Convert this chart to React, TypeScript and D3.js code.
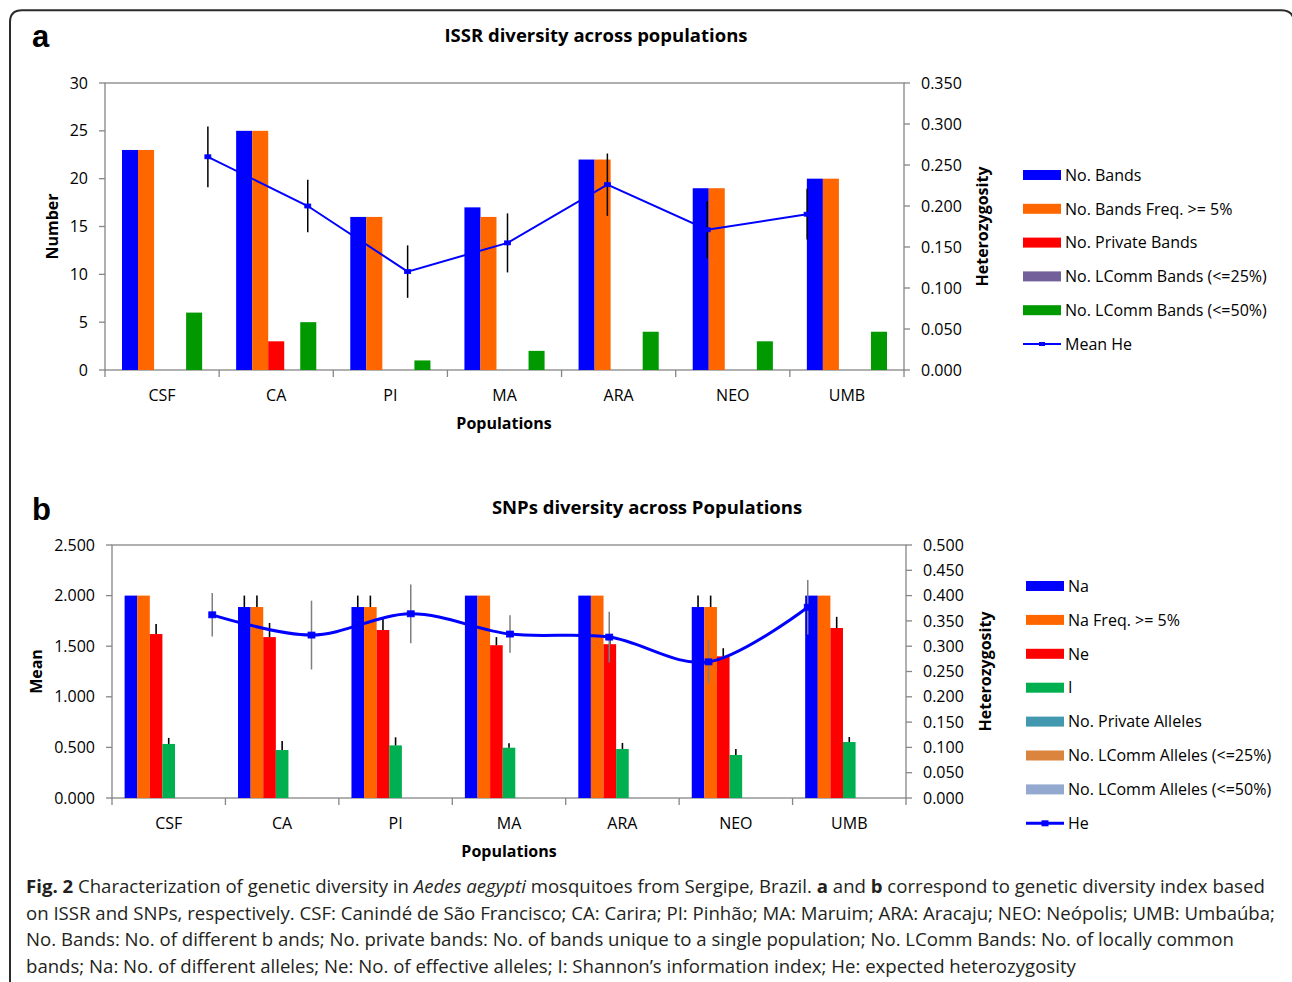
import React from 'react';
import * as d3 from 'd3';

const populations = ['CSF', 'CA', 'PI', 'MA', 'ARA', 'NEO', 'UMB'];

// panel a - ISSR
const issrSeriesNames = ['No. Bands', 'No. Bands Freq. >= 5%', 'No. Private Bands', 'No. LComm Bands (<=25%)', 'No. LComm Bands (<=50%)'];
const issrNoBands = [23, 25, 16, 17, 22, 19, 20];
const issrBandsFreq5 = [23, 25, 16, 16, 22, 19, 20];
const issrPrivateBands = [0, 3, 0, 0, 0, 0, 0];
const issrLComm25 = [0, 0, 0, 0, 0, 0, 0];
const issrLComm50 = [6, 5, 1, 2, 4, 3, 4];
const issrMeanHe = [0.26, 0.2, 0.12, 0.155, 0.226, 0.171, 0.19];
const issrMeanHeErr = [0.037, 0.032, 0.032, 0.036, 0.038, 0.035, 0.031];
const issrLeftTicks = [0, 5, 10, 15, 20, 25, 30];
const issrRightTicks = [0, 0.05, 0.1, 0.15, 0.2, 0.25, 0.3, 0.35];

// panel b - SNPs
const snpSeriesNames = ['Na', 'Na Freq. >= 5%', 'Ne', 'I', 'No. Private Alleles', 'No. LComm Alleles (<=25%)', 'No. LComm Alleles (<=50%)'];
const snpNa = [2.0, 1.887, 1.887, 2.0, 2.0, 1.887, 2.0];
const snpNaErr = [0, 0.113, 0.113, 0, 0, 0.113, 0];
const snpNaFreq5 = [2.0, 1.887, 1.887, 2.0, 2.0, 1.887, 2.0];
const snpNaFreq5Err = [0, 0.113, 0.113, 0, 0, 0.113, 0];
const snpNe = [1.62, 1.59, 1.66, 1.51, 1.52, 1.4, 1.68];
const snpNeErr = [0.1, 0.14, 0.12, 0.08, 0.09, 0.08, 0.11];
const snpI = [0.534, 0.474, 0.52, 0.497, 0.484, 0.425, 0.553];
const snpIErr = [0.06, 0.09, 0.08, 0.045, 0.06, 0.06, 0.05];
const snpPrivate = [0, 0, 0, 0, 0, 0, 0];
const snpLComm25 = [0, 0, 0, 0, 0, 0, 0];
const snpLComm50 = [0, 0, 0, 0, 0, 0, 0];
const snpHe = [0.362, 0.322, 0.364, 0.324, 0.318, 0.269, 0.377];
const snpHeErr = [0.043, 0.068, 0.058, 0.037, 0.05, 0.043, 0.054];
const snpLeftTicks = [0, 0.5, 1, 1.5, 2, 2.5];
const snpRightTicks = [0, 0.05, 0.1, 0.15, 0.2, 0.25, 0.3, 0.35, 0.4, 0.45, 0.5];

const FONT = "'Open Sans', sans-serif";
const AXIS = '#868686';

type Bar = { name: string; values: number[]; color: string; err?: number[] };

type PanelProps = {
  box: { left: number; right: number; top: number; bottom: number };
  bars: Bar[];
  outerPad: number;
  leftTicks: number[];
  rightTicks: number[];
  leftFmt: (v: number) => string;
  he: number[];
  heErr: number[];
  heName: string;
  heWidth: number;
  heErrColor: string;
  lineShift: number;
  smooth: boolean;
  marker: [number, number];
  legend: { x: number; y0: number; step: number };
  titles: { letter: string; title: string; titleX: number; titleY: number; letterY: number; yLabel: string; yLabelX: number; y2LabelX: number; xLabelX: number; xLabelY: number; catY: number };
};

const Panel = ({ box, bars, outerPad, leftTicks, rightTicks, leftFmt, he, heErr, heName, heWidth, heErrColor, lineShift, smooth, marker, legend, titles }: PanelProps) => {
  const { left, right, top, bottom } = box;
  const x0 = d3.scaleBand().domain(populations).range([left, right]).padding(0);
  const x1 = d3.scaleBand().domain(bars.map(b => b.name)).range([0, x0.bandwidth()]).paddingInner(0).paddingOuter(outerPad);
  const yL = d3.scaleLinear().domain([0, leftTicks[leftTicks.length - 1]]).range([bottom, top]);
  const yR = d3.scaleLinear().domain([0, rightTicks[rightTicks.length - 1]]).range([bottom, top]);
  // the line sits on its own secondary category axis
  const xLine = d3.scaleLinear().domain([-1, populations.length]).range([left + lineShift, right + lineShift]);
  const line = d3.line<number>()
    .x((_, i) => xLine(i))
    .y(d => yR(d))
    .curve(smooth ? d3.curveCatmullRom.alpha(0) : d3.curveLinear);
  const midY = (top + bottom) / 2;
  const legendItems = [...bars.map(b => ({ name: b.name, color: b.color, line: false })), { name: heName, color: '#0000FF', line: true }];

  return (
    <g fontFamily={FONT}>
      <text x={32} y={titles.letterY} fontFamily="'Liberation Sans', Arial, sans-serif" fontWeight="bold" fontSize={31}>{titles.letter}</text>
      <text x={titles.titleX} y={titles.titleY} textAnchor="middle" fontWeight="bold" fontSize={18.5}>{titles.title}</text>

      {/* plot frame */}
      <rect x={left} y={top} width={right - left} height={bottom - top} fill="none" stroke={AXIS} strokeWidth={1.3} />
      {leftTicks.map(t => (
        <g key={'l' + t}>
          <line x1={left - 6} x2={left} y1={yL(t)} y2={yL(t)} stroke={AXIS} strokeWidth={1.3} />
          <text x={left - 17} y={yL(t)} dy="0.35em" textAnchor="end" fontSize={16}>{leftFmt(t)}</text>
        </g>
      ))}
      {rightTicks.map(t => (
        <g key={'r' + t}>
          <line x1={right} x2={right + 6} y1={yR(t)} y2={yR(t)} stroke={AXIS} strokeWidth={1.3} />
          <text x={right + 17} y={yR(t)} dy="0.35em" fontSize={16}>{t.toFixed(3)}</text>
        </g>
      ))}
      {[...populations.map(p => x0(p) as number), right].map((v, i) => (
        <line key={'xt' + i} x1={v} x2={v} y1={bottom} y2={bottom + 7} stroke={AXIS} strokeWidth={1.3} />
      ))}
      {populations.map(p => (
        <text key={'c' + p} x={(x0(p) as number) + x0.bandwidth() / 2} y={titles.catY} textAnchor="middle" fontSize={16}>{p}</text>
      ))}

      {/* bars */}
      {bars.map(b => b.values.map((v, i) => (
        <rect key={b.name + i} x={(x0(populations[i]) as number) + (x1(b.name) as number)} y={yL(v)}
          width={x1.bandwidth()} height={bottom - yL(v)} fill={b.color} />
      )))}
      {bars.filter(b => b.err).map(b => b.values.map((v, i) => {
        const cx = (x0(populations[i]) as number) + (x1(b.name) as number) + x1.bandwidth() / 2;
        const e = (b.err as number[])[i];
        return e > 0 ? <line key={'e' + b.name + i} x1={cx} x2={cx} y1={yL(v)} y2={yL(v + e)} stroke="#000" strokeWidth={1.6} /> : null;
      }))}

      {/* heterozygosity line */}
      {he.map((v, i) => (
        <line key={'he' + i} x1={xLine(i)} x2={xLine(i)} y1={yR(v - heErr[i])} y2={yR(v + heErr[i])} stroke={heErrColor} strokeWidth={1.5} />
      ))}
      <path d={line(he) as string} fill="none" stroke="#0000FF" strokeWidth={heWidth} />
      {he.map((v, i) => (
        <rect key={'hm' + i} x={xLine(i) - marker[0] / 2} y={yR(v) - marker[1] / 2} width={marker[0]} height={marker[1]} fill="#0000FF" stroke="#0000FF" strokeWidth={0.8} />
      ))}

      {/* axis titles */}
      <text transform={`translate(${titles.yLabelX},${midY}) rotate(-90)`} dy="0.35em" textAnchor="middle" fontWeight="bold" fontSize={16}>{titles.yLabel}</text>
      <text transform={`translate(${titles.y2LabelX},${midY}) rotate(-90)`} dy="0.35em" textAnchor="middle" fontWeight="bold" fontSize={16}>Heterozygosity</text>
      <text x={titles.xLabelX} y={titles.xLabelY} textAnchor="middle" fontWeight="bold" fontSize={16}>Populations</text>

      {/* legend */}
      {legendItems.map((d, i) => {
        const cy = legend.y0 + i * legend.step;
        return (
          <g key={'lg' + i}>
            {d.line ? (
              <g>
                <line x1={legend.x} x2={legend.x + 38} y1={cy} y2={cy} stroke={d.color} strokeWidth={heWidth} />
                <rect x={legend.x + 19 - marker[0] / 2} y={cy - marker[1] / 2} width={marker[0]} height={marker[1]} fill={d.color} />
              </g>
            ) : (
              <rect x={legend.x} y={cy - 5} width={38} height={10} fill={d.color} />
            )}
            <text x={legend.x + 42} y={cy} dy="0.36em" fontSize={16}>{d.name}</text>
          </g>
        );
      })}
    </g>
  );
};

const App = () => {
  const issrColors = ['#0000FF', '#FF6600', '#FF0000', '#73609A', '#009900'];
  const issrValues = [issrNoBands, issrBandsFreq5, issrPrivateBands, issrLComm25, issrLComm50];
  const issrBars: Bar[] = issrSeriesNames.map((n, i) => ({ name: n, values: issrValues[i], color: issrColors[i] }));

  const snpColors = ['#0000FF', '#FF6600', '#FF0000', '#00B050', '#4198AF', '#DB843D', '#93A9CF'];
  const snpValues = [snpNa, snpNaFreq5, snpNe, snpI, snpPrivate, snpLComm25, snpLComm50];
  const snpErrs = [snpNaErr, snpNaFreq5Err, snpNeErr, snpIErr, undefined, undefined, undefined];
  const snpBars: Bar[] = snpSeriesNames.map((n, i) => ({ name: n, values: snpValues[i], color: snpColors[i], err: snpErrs[i] }));

  return (
    <div style={{ position: 'absolute', left: 0, top: 0 }}>
      <svg width={1292} height={982} style={{ display: 'block', background: '#fff' }}>
        <path d="M10 990 L10 22 Q10 10.3 22 10.3 L1281 10.3 Q1294 10.3 1294 23 L1294 990" fill="none" stroke="#2b2b2b" strokeWidth={2} />
        <Panel
          box={{ left: 105, right: 904, top: 83, bottom: 370 }}
          bars={issrBars}
          outerPad={1.06}
          leftTicks={issrLeftTicks}
          rightTicks={issrRightTicks}
          leftFmt={v => String(v)}
          he={issrMeanHe}
          heErr={issrMeanHeErr}
          heName="Mean He"
          heWidth={2}
          heErrColor="#000"
          lineShift={3}
          smooth={false}
          marker={[6, 4]}
          legend={{ x: 1023, y0: 175, step: 33.8 }}
          titles={{ letter: 'a', title: 'ISSR diversity across populations', titleX: 596, titleY: 42, letterY: 47, yLabel: 'Number', yLabelX: 52, y2LabelX: 982, xLabelX: 504, xLabelY: 429, catY: 401 }}
        />
        <Panel
          box={{ left: 112, right: 906, top: 545, bottom: 798 }}
          bars={snpBars}
          outerPad={1.0}
          leftTicks={snpLeftTicks}
          rightTicks={snpRightTicks}
          leftFmt={v => v.toFixed(3)}
          he={snpHe}
          heErr={snpHeErr}
          heName="He"
          heWidth={3}
          heErrColor="#7f7f7f"
          lineShift={1}
          smooth={true}
          marker={[7, 6]}
          legend={{ x: 1026, y0: 586, step: 33.9 }}
          titles={{ letter: 'b', title: 'SNPs diversity across Populations', titleX: 647, titleY: 514, letterY: 520, yLabel: 'Mean', yLabelX: 36, y2LabelX: 985, xLabelX: 509, xLabelY: 857, catY: 829 }}
        />
        <g fontFamily={FONT} fontSize={18.6} fill="#231f20">
          <text x={26} y={893}>
            <tspan fontWeight="bold">Fig. 2</tspan>{' Characterization of genetic diversity in '}<tspan fontStyle="italic">Aedes aegypti</tspan>{' mosquitoes from Sergipe, Brazil. '}<tspan fontWeight="bold">a</tspan>{' and '}<tspan fontWeight="bold">b</tspan>{' correspond to genetic diversity index based'}
          </text>
          <text x={26} y={919.5}>on ISSR and SNPs, respectively. CSF: Canindé de São Francisco; CA: Carira; PI: Pinhão; MA: Maruim; ARA: Aracaju; NEO: Neópolis; UMB: Umbaúba;</text>
          <text x={26} y={946}>No. Bands: No. of different b ands; No. private bands: No. of bands unique to a single population; No. LComm Bands: No. of locally common</text>
          <text x={26} y={972.5}>bands; Na: No. of different alleles; Ne: No. of effective alleles; I: Shannon’s information index; He: expected heterozygosity</text>
        </g>
      </svg>
    </div>
  );
};

export default App;
